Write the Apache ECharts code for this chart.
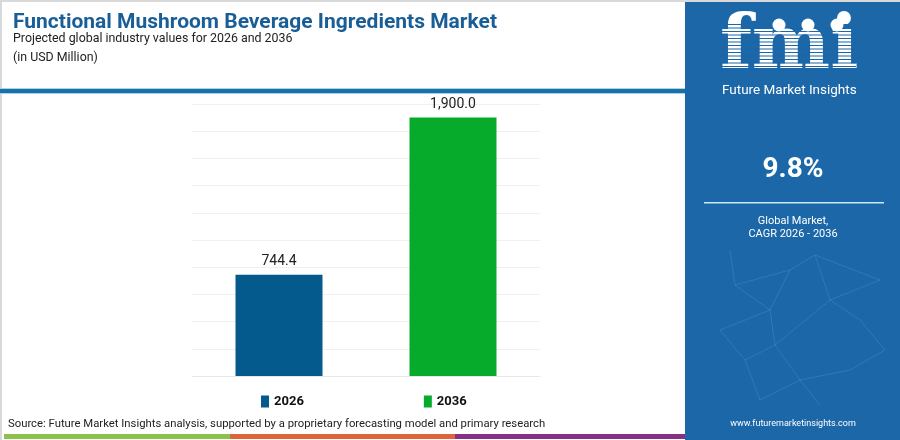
<!DOCTYPE html>
<html><head><meta charset="utf-8">
<script src="https://cdn.jsdelivr.net/npm/echarts@6/dist/echarts.min.js"></script>
<style>html,body{margin:0;padding:0;background:#fff}#c{width:900px;height:440px}</style>
</head><body><div id="c"></div>
<script>
var categories = ['2026', '2036'];
var values2026 = [744.4, '-'];
var values2036 = ['-', 1900.0];
var seriesNames = ['2026', '2036'];
var yTicks = {min: 0, max: 2000, interval: 200};
var titleText = 'Functional Mushroom Beverage Ingredients Market';
var subtitleText = 'Projected global industry values for 2026 and 2036';
var unitText = '(in USD Million)';
var cagrText = '9.8%';
var cagrLabel1 = 'Global Market,';
var cagrLabel2 = 'CAGR 2026 - 2036';
var sourceText = 'Source: Future Market Insights analysis, supported by a proprietary forecasting model and primary research';
var urlText = 'www.futuremarketinsights.com';

var FONT = 'Roboto, "Open Sans", sans-serif';
var PANEL = '#1b67a8';
var chart = echarts.init(document.getElementById('c'), null, {renderer: 'canvas'});

var net = [];
var pts = [[730,250],[735,285],[790,270],[815,255],[880,280],[770,310],[720,330],[775,345],[830,300],[860,320],[745,360],[800,380],[850,370],[885,350],[760,400],[820,405]];
var links = [[0,1],[1,2],[2,3],[3,4],[2,5],[5,6],[5,7],[7,8],[8,4],[8,9],[6,10],[10,7],[7,11],[11,12],[12,13],[9,13],[10,14],[14,11],[11,15],[1,5],[3,8]];
links.forEach(function(l){
  net.push({type:'line', shape:{x1:pts[l[0]][0], y1:pts[l[0]][1], x2:pts[l[1]][0], y2:pts[l[1]][1]}, style:{stroke:'rgba(140,200,235,0.18)', lineWidth:1}, silent:true});
});
var stripes = [];
for (var sy = 24; sy < 76; sy += 3.5) {
  stripes.push({type:'rect', shape:{x:716, y:sy, width:140, height:1.1}, style:{fill:PANEL}, silent:true});
}

var labelFmt = function(p){ return Number(p.value).toLocaleString('en-US',{minimumFractionDigits:1, maximumFractionDigits:1}); };

chart.setOption({
  animation: false,
  title: [{
    text: titleText, left: 8, top: 7,
    textStyle: {fontFamily: FONT, fontWeight: 'bold', fontSize: 21, color: '#1a5e97'}
  }, {
    text: subtitleText + '\n' + unitText, left: 8, top: 24,
    textStyle: {fontFamily: FONT, fontWeight: 'normal', fontSize: 12.4, color: '#222', lineHeight: 19}
  }],
  legend: {
    data: seriesNames, left: 256, top: 390, itemGap: 120, itemWidth: 8, itemHeight: 12,
    icon: 'rect', selectedMode: false,
    textStyle: {fontFamily: FONT, fontWeight: 'bold', fontSize: 13, color: '#111'}
  },
  grid: {left: 192, right: 360, top: 104, bottom: 64, containLabel: false},
  xAxis: {
    type: 'category', data: categories,
    axisLine: {lineStyle: {color: '#e8e8e8'}}, axisTick: {show: false}, axisLabel: {show: false}
  },
  yAxis: {
    type: 'value', min: yTicks.min, max: yTicks.max, interval: yTicks.interval,
    axisLabel: {show: false}, axisLine: {show: false}, axisTick: {show: false},
    splitLine: {lineStyle: {color: '#f0f0f0', width: 1}}
  },
  series: [{
    name: seriesNames[0], type: 'bar', data: values2026, barWidth: '50%', barGap: '-100%',
    itemStyle: {color: '#045a8d'},
    label: {show: true, position: 'top', distance: 6, fontFamily: FONT, fontSize: 14, color: '#222', formatter: labelFmt}
  }, {
    name: seriesNames[1], type: 'bar', data: values2036, barWidth: '50%', barGap: '-100%',
    itemStyle: {color: '#06ab2c'},
    label: {show: true, position: 'top', distance: 6, fontFamily: FONT, fontSize: 14, color: '#222', formatter: labelFmt}
  }],
  graphic: [
    {type:'rect', shape:{x:0, y:0, width:900, height:2}, style:{fill:'#d9d9d9'}, silent:true},
    {type:'rect', shape:{x:0, y:0, width:2, height:440}, style:{fill:'#d9d9d9'}, silent:true},
    {type:'rect', shape:{x:0, y:88, width:686, height:6}, style:{fill:'#9fd6f0'}, silent:true},
    {type:'rect', shape:{x:0, y:89, width:686, height:4}, style:{fill:'#1f6ea6'}, silent:true},
    {type:'rect', shape:{x:685, y:2, width:215, height:438}, style:{fill:PANEL}, silent:true},
    {type:'group', children: net},
    {type:'text', left: 720, top: 12, style:{text:'fmi', fill:'#fff', font:'bold 74px "DejaVu Serif", serif'}, silent:true},
    {type:'group', children: stripes},
    {type:'circle', shape:{cx:779, cy:25, r:6.5}, style:{fill:'#fff'}, silent:true},
    {type:'circle', shape:{cx:808, cy:25, r:6.5}, style:{fill:'#fff'}, silent:true},
    {type:'circle', shape:{cx:837, cy:25, r:6.5}, style:{fill:'#fff'}, silent:true},
    {type:'text', left: 722, top: 84, style:{text:'Future Market Insights', fill:'#fff', font:'13.5px ' + FONT}, silent:true},
    {type:'text', x: 793, y: 170, style:{text:cagrText, fill:'#fff', font:'bold 28px ' + FONT, textAlign:'center', textVerticalAlign:'middle'}, silent:true},
    {type:'rect', shape:{x:704, y:202, width:180, height:1.5}, style:{fill:'#cfe6f5'}, silent:true},
    {type:'text', x: 793, y: 221, style:{text:cagrLabel1, fill:'#fff', font:'11px ' + FONT, textAlign:'center', textVerticalAlign:'middle'}, silent:true},
    {type:'text', x: 793, y: 234, style:{text:cagrLabel2, fill:'#fff', font:'11px ' + FONT, textAlign:'center', textVerticalAlign:'middle'}, silent:true},
    {type:'text', x: 793, y: 424, style:{text:urlText, fill:'#fff', font:'9px ' + FONT, textAlign:'center', textVerticalAlign:'middle'}, silent:true},
    {type:'text', x: 8, y: 424, style:{text:sourceText, fill:'#222', font:'11.3px ' + FONT, textVerticalAlign:'middle'}, silent:true},
    {type:'rect', shape:{x:4, y:434, width:226, height:5}, style:{fill:'#8cc14c'}, silent:true},
    {type:'rect', shape:{x:230, y:434, width:225, height:5}, style:{fill:'#e0643a'}, silent:true},
    {type:'rect', shape:{x:455, y:434, width:230, height:5}, style:{fill:'#8a2f86'}, silent:true}
  ]
});
</script></body></html>
